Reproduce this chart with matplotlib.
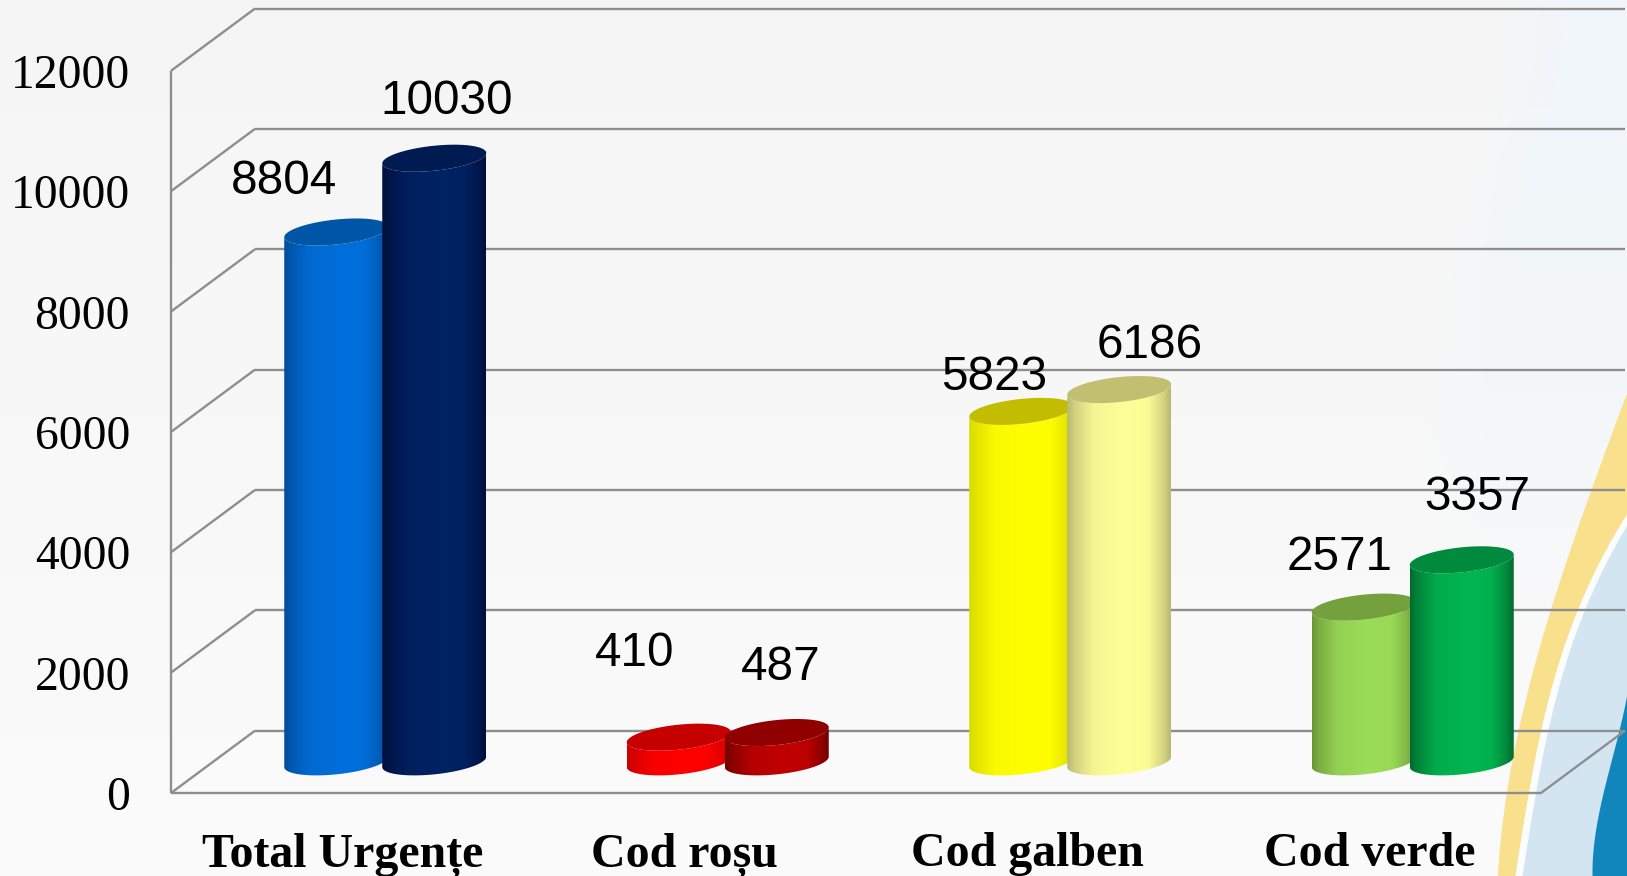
# plot.py
# 3D looking cylinder chart of emergencies per triage code
import numpy as np
import matplotlib
matplotlib.use('Agg')
import matplotlib.pyplot as plt
from matplotlib.path import Path
from matplotlib.patches import PathPatch

categories = ['Total Urgențe', 'Cod roșu', 'Cod galben', 'Cod verde']
values_first = [8804, 410, 5823, 2571]
values_second = [10030, 487, 6186, 3357]
y_ticks = [0, 2000, 4000, 6000, 8000, 10000, 12000]

# (edge, centre, top) colour for each cylinder, first then second in each group
colors_first = [('#004c9a', '#006fdb', '#0056a6'),
                ('#c80000', '#ff0000', '#c60000'),
                ('#d8d800', '#ffff00', '#c2bd00'),
                ('#6c9638', '#9bdc58', '#74a03e')]
colors_second = [('#000f3c', '#002263', '#001a52'),
                 ('#700000', '#c00000', '#900000'),
                 ('#b8b870', '#ffff99', '#c2bf70'),
                 ('#006a2e', '#00b650', '#008a3e')]

# value labels, pixel centres in the full size picture
label_xy_first = [(284, 182), (635, 654), (994, 377), (1340, 558)]
label_xy_second = [(447, 102), (781, 668), (1150, 346), (1477, 497)]

W, H = 1627, 876
PX_X = 342.5            # pixels per category
PX_Y = 722.2 / 12000    # pixels per value unit
DEPTH_X = 84 / PX_X
DEPTH_Y = 62.3 / PX_Y
BAR_W = 104 / PX_X
BAR_GAP = 49 / PX_X
BAR_SHIFT = 1 / PX_X
ELL_B = 12.5 / PX_Y
ELL_S = 5.2 / PX_Y      # rise of the tilted ellipse from centre to right edge
GRID = '#8e8e8e'


def hex_rgb(c):
    return np.array(matplotlib.colors.to_rgb(c))


def edge_curve(points, y):
    xs, ys = zip(*points)
    return np.polyval(np.polyfit(ys, xs, 3), y)


def draw_background(fig):
    bg = fig.add_axes([0, 0, 1, 1], zorder=0)
    bg.set_xlim(0, W)
    bg.set_ylim(H, 0)
    bg.axis('off')

    # base grey, lighter towards the bottom, and the pale sheen at the top right
    yy, xx = np.mgrid[0:H, 0:W]
    img = np.zeros((H, W, 3))
    shade = 0.962 + 0.022 * yy / H
    img[..., 0] = img[..., 1] = img[..., 2] = shade
    sheen_edge = np.interp(yy, [0, 60, 130, 250, 400, 620], [1507, 1500, 1483, 1450, 1425, 1425])
    sheen = np.clip((xx - sheen_edge) / 60, 0, 1) * np.clip((640 - yy) / 450, 0, 1)
    for i, c in enumerate(hex_rgb('#f1f6fa')):
        img[..., i] = img[..., i] * (1 - sheen) + c * sheen
    bg.imshow(img, extent=[0, W, H, 0], aspect='auto', zorder=0)

    y = np.arange(385, H + 1)
    yellow_left = edge_curve([(1497, 876), (1507, 793), (1548, 614), (1587, 503), (1627, 391)], y)
    yellow_right = edge_curve([(1515, 876), (1528, 793), (1557, 670), (1600, 559), (1627, 514)], y)
    deep_left = edge_curve([(1592, 876), (1603, 793), (1620, 726), (1627, 693)], y)
    yellow_left = np.minimum(yellow_left, W)
    yellow_right = np.minimum(yellow_right, W)
    deep_left = np.minimum(deep_left, W)
    bg.fill_betweenx(y, yellow_left, yellow_right, where=y >= 391, color='#f8e08c', lw=0, zorder=1)
    bg.fill_betweenx(y, yellow_right, W, where=y >= 505, color='#fbfdfe', lw=0, zorder=1)
    bg.fill_betweenx(y, np.minimum(yellow_right + 7, W), W, where=y >= 505, color='#d4e5f2', lw=0, zorder=2)
    bg.fill_betweenx(y, deep_left, W, where=y >= 680, color='#1186bd', lw=0, zorder=3)
    bg.set_xlim(0, W)
    bg.set_ylim(H, 0)


def draw_cylinder(ax, cx, value, colors, z):
    edge, mid, top = [hex_rgb(c) for c in colors]
    cx = cx + DEPTH_X / 2 + BAR_SHIFT
    base = DEPTH_Y / 2
    a = BAR_W / 2

    t = np.linspace(0, np.pi, 60)
    # lower half of the ellipse, going from the right edge to the left edge
    lx = cx + a * np.cos(t)
    low = -ELL_B * np.sin(t) + ELL_S * np.cos(t)
    xs = np.concatenate([lx[::-1], lx])
    ys = np.concatenate([(base + low)[::-1], (base + value + low)])
    body = PathPatch(Path(np.column_stack([xs, ys])), transform=ax.transData, lw=0)

    # horizontal shading of the body
    u = np.linspace(0, 1, 200)
    k = np.interp(u, [0, 0.06, 0.25, 0.55, 0.78, 0.93, 1], [0, 0.3, 0.85, 1, 0.95, 0.4, 0])
    grad = edge[None, :] * (1 - k[:, None]) + mid[None, :] * k[:, None]
    im = ax.imshow(grad[None, :, :], extent=[cx - a, cx + a, base - 2 * ELL_B, base + value + 2 * ELL_B],
                   aspect='auto', zorder=z, interpolation='bilinear')
    im.set_clip_path(body)

    # top face
    tt = np.linspace(0, 2 * np.pi, 120)
    tx = cx + a * np.cos(tt)
    ty = base + value + ELL_B * np.sin(tt) + ELL_S * np.cos(tt)
    ax.fill(tx, ty, color=top, lw=0, zorder=z + 0.5, clip_on=False)


def main():
    plt.rcParams['font.family'] = ['Liberation Serif', 'DejaVu Serif']
    fig = plt.figure(figsize=(W / 100, H / 100), dpi=100)
    draw_background(fig)

    ax = fig.add_axes([171 / W, (H - 793) / H, 1370 / W, 722.2 / H], zorder=1)
    ax.patch.set_visible(False)
    for s in ax.spines.values():
        s.set_visible(False)

    # walls and floor
    line = dict(color=GRID, lw=1.7, clip_on=False, zorder=1, solid_capstyle='butt')
    for v in y_ticks:
        ax.plot([0, DEPTH_X], [v, v + DEPTH_Y], **line)
        ax.plot([DEPTH_X, 4 + DEPTH_X], [v + DEPTH_Y, v + DEPTH_Y], **line)
    ax.plot([0, 0], [0, y_ticks[-1]], **line)
    ax.plot([0, 4, 4 + DEPTH_X], [0, 0, DEPTH_Y], **line)

    for i in range(len(categories)):
        centre = i + 0.5
        draw_cylinder(ax, centre - BAR_GAP, values_first[i], colors_first[i], 3 + i * 2)
        draw_cylinder(ax, centre + BAR_GAP, values_second[i], colors_second[i], 4 + i * 2)

    ax.set_xlim(0, 4)
    ax.set_ylim(0, 12000)

    ax.set_yticks(y_ticks)
    ax.set_yticklabels([str(v) for v in y_ticks], fontsize=34.3, color='black')
    ax.tick_params(axis='y', length=0, pad=29.5)
    ax.set_xticks([i + 0.5 for i in range(len(categories))])
    ax.set_xticklabels(categories, fontsize=34.5, fontweight='bold', color='black')
    ax.tick_params(axis='x', length=0, pad=28)

    for (x, y), v in zip(label_xy_first + label_xy_second, values_first + values_second):
        fig.text(x / W, 1 - y / H, str(v), family=['Liberation Sans', 'DejaVu Sans'], fontsize=34.3,
                 ha='center', va='center', color='black', zorder=5)

    fig.savefig('out.png', dpi=100)


if __name__ == '__main__':
    main()
